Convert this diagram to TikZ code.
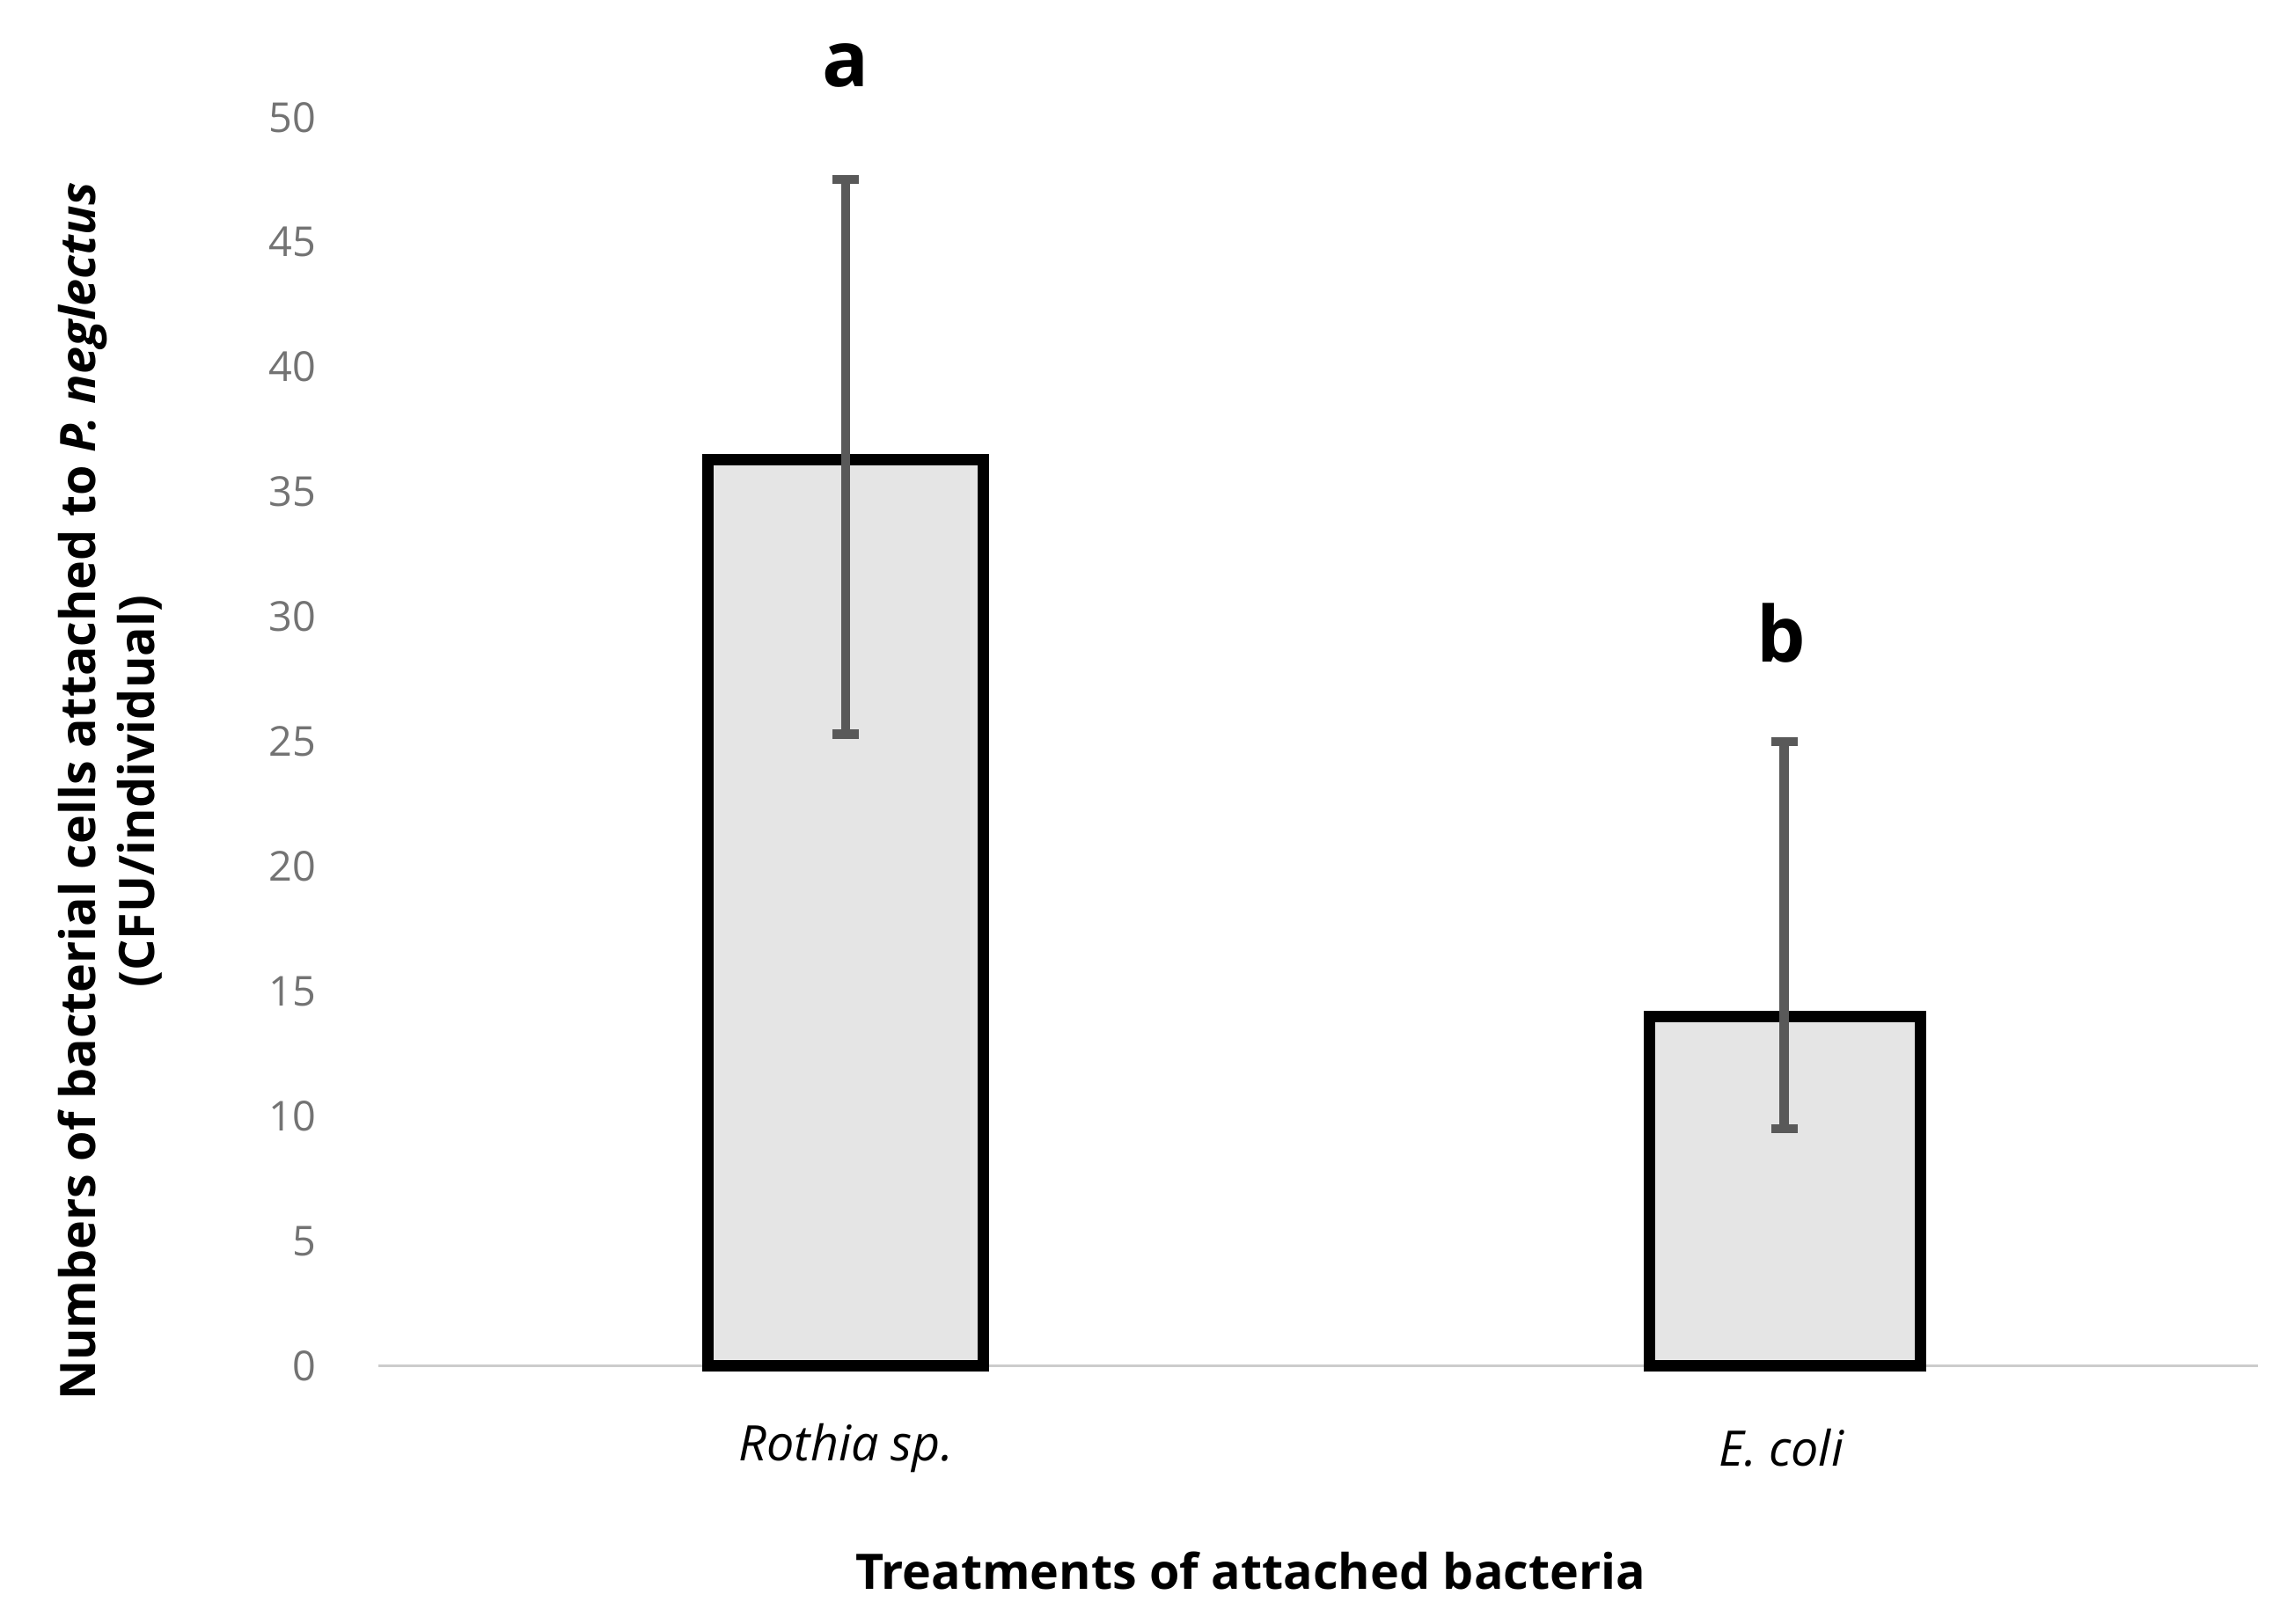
\documentclass[tikz,border=0pt]{standalone}
\usepackage{fontspec}
\setmainfont{Open Sans}
\begin{document}
\begin{tikzpicture}[x=0.02cm,y=-0.02cm,
  tick/.style={anchor=east,text=gray!90!black,font=\fontsize{16}{18}\selectfont},
  bar/.style={draw=black,line width=4.5pt,fill=gray!20},
  err/.style={draw=gray!70!black,line width=3.5pt},
  sig/.style={font=\bfseries\fontsize{30}{34}\selectfont},
  ttl/.style={font=\bfseries\fontsize{19}{23}\selectfont}]
\useasboundingbox (0,0) rectangle (1560,1108);
\draw[gray!40,line width=1pt] (258,932) -- (1540,932);
\foreach \v in {0,5,...,50}{
  \node[tick] (t\v) at (222,{932-\v*17.04}) {\v};}
\draw[bar] (483,932) rectangle (671,{932-36.3*17.04});
\draw[bar] (1125,932) rectangle (1310,{932-14*17.04});
\draw[err] (577,{932-25.3*17.04}) -- (577,{932-47.5*17.04});
\draw[err] (568,{932-25.3*17.04}) -- (586,{932-25.3*17.04});
\draw[err] (568,{932-47.5*17.04}) -- (586,{932-47.5*17.04});
\draw[err] (1217,{932-9.5*17.04}) -- (1217,{932-25*17.04});
\draw[err] (1208,{932-9.5*17.04}) -- (1226,{932-9.5*17.04});
\draw[err] (1208,{932-25*17.04}) -- (1226,{932-25*17.04});
\node[sig] (a) at (577,45) {a};
\node[sig] (b) at (1215,432) {b};
\node[font=\itshape\fontsize{19}{23}\selectfont] (x1) at (577,988) {Rothia sp.};
\node[font=\itshape\fontsize{19}{23}\selectfont] (x2) at (1215,988) {E. coli};
\node[ttl] (xt) at (853,1072) {Treatments of attached bacteria};
\node[ttl,rotate=90,align=center] (yt) at (75,540) {Numbers of bacterial cells attached to \textit{P. neglectus}\\(CFU/individual)};
\end{tikzpicture}
\end{document}
